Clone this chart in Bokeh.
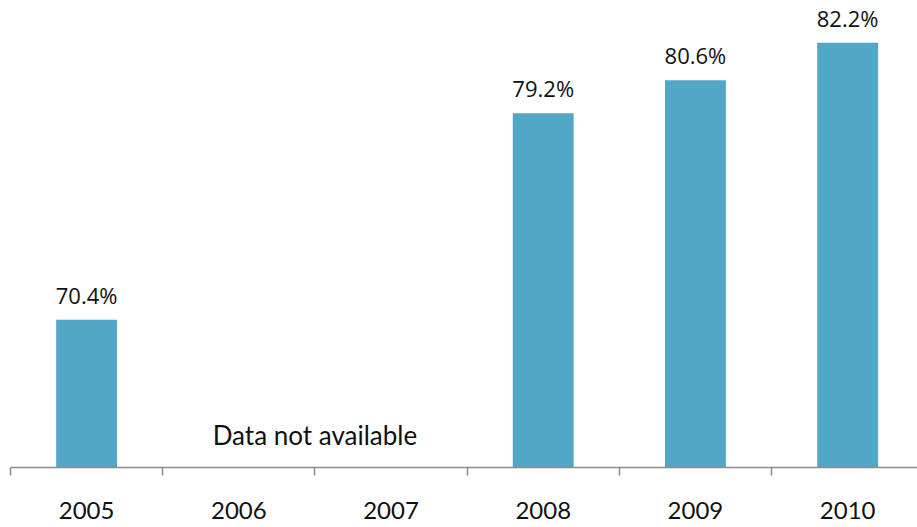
from bokeh.plotting import figure
from bokeh.models import FixedTicker, Range1d, ColumnDataSource
from bokeh.core.properties import value
from bokeh.embed import file_html
from bokeh.resources import INLINE

years = ["2005", "2006", "2007", "2008", "2009", "2010"]
rates = [70.4, None, None, 79.2, 80.6, 82.2]
note_text = "Data not available"
note_x = 2.0
note_y = 65.5

xs = [i + 0.5 for i, r in enumerate(rates) if r is not None]
vals = [r for r in rates if r is not None]
labels = [f"{r:.1f}%" for r in vals]

p = figure(width=917, height=527, output_backend="svg", toolbar_location=None,
           x_range=Range1d(0, 5.959), y_range=Range1d(64.1, 84.0),
           min_border_left=10, min_border_right=0, min_border_top=0, min_border_bottom=60)
p.outline_line_color = None
p.grid.grid_line_color = None
p.yaxis.visible = False

src = ColumnDataSource(dict(x=xs, top=vals, label=labels))
p.vbar(x="x", top="top", bottom=64.1, width=0.4, source=src, fill_color="#52A6C6", line_color=None)
p.text(x="x", y="top", text="label", source=src, text_align="center", text_baseline="alphabetic",
       y_offset=-25, text_font=value("Open Sans"), text_font_size="22px", text_color="#111111")
p.text(x=[note_x], y=[note_y], text=[note_text], text_align="center", text_baseline="alphabetic",
       text_font=value("Lato"), text_font_size="26px", text_color="#111111")

ax = p.xaxis[0]
ax.ticker = FixedTicker(ticks=[i + 0.5 for i in range(6)], minor_ticks=list(range(7)))
ax.major_label_overrides = {i + 0.5: y for i, y in enumerate(years)}
ax.major_tick_out = 0
ax.major_tick_in = 0
ax.minor_tick_out = 8
ax.minor_tick_in = 0
ax.minor_tick_line_color = "#8C8C8C"
ax.minor_tick_line_width = 1.5
ax.axis_line_color = "#8C8C8C"
ax.axis_line_width = 1.5
ax.major_label_standoff = 26
ax.major_label_text_font = "Lato"
ax.major_label_text_font_size = "24px"
ax.major_label_text_color = "#111111"

open("out.html", "w").write(file_html(p, INLINE))
